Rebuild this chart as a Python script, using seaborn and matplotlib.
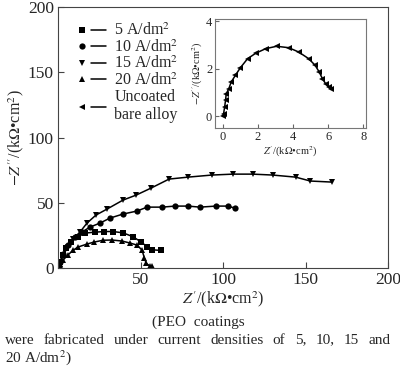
import numpy as np
import pandas as pd
import matplotlib
matplotlib.use("Agg")
import matplotlib.pyplot as plt
import seaborn as sns
from matplotlib.lines import Line2D
from matplotlib.legend_handler import HandlerTuple

# Nyquist data (kOhm cm2)
x5 = [0.5, 1.5, 3, 5, 8, 12, 16.4, 22.4, 27.9, 33.3, 39.4, 45.5, 50.3, 53.9, 57, 62.4]
y5 = [1.5, 5, 10, 15, 20, 24, 26.8, 27.5, 28, 28, 27, 24, 20, 16.5, 14, 13.5]
x10 = [0.5, 1.5, 3, 6, 10.3, 14.5, 19.4, 25.5, 31.5, 39.4, 47.9, 54, 63, 71, 78.8, 86, 95.8, 103, 107]
y10 = [1, 5, 11, 18, 23.8, 27.6, 31.4, 34.5, 38.3, 41.4, 43.7, 46.7, 46.7, 47.5, 47.5, 46.7, 47.5, 47.5, 46]
x15 = [0.5, 1.2, 3, 6.1, 9.1, 13.3, 17.6, 23, 29.7, 39.4, 47.3, 56.4, 67.3, 78.8, 93.3, 106, 118, 130, 144, 153, 166]
y15 = [1, 4.6, 10, 16.1, 22.2, 27.6, 34.5, 40.6, 45.2, 52.1, 55.9, 61.3, 68.2, 69.7, 71.3, 72, 72, 71.3, 69.7, 66.7, 65.9]
x20 = [0.5, 1.5, 3, 6, 9, 12.1, 17.6, 21.8, 27.3, 32.7, 38.8, 43.6, 47.9, 50.9, 52.3, 53.5, 55.5, 57]
y20 = [1, 3, 6, 10, 13.5, 16.1, 18.4, 19.9, 21.3, 21.5, 20.7, 19.2, 17.6, 13.8, 8, 3.5, 1.8, 1.5]
xu = [0.02, 0.04, 0.1, 0.15, 0.19, 0.34, 0.47, 0.71, 0.98, 1.41, 1.88, 2.44, 3.06, 3.75, 4.31, 4.88, 5.25, 5.48, 5.67, 5.85, 6.04, 6.15]
yu = [0.0, 0.11, 0.39, 0.67, 0.95, 1.16, 1.44, 1.72, 2.03, 2.43, 2.66, 2.85, 2.95, 2.89, 2.71, 2.43, 2.15, 1.87, 1.58, 1.37, 1.21, 1.16]

labels = ["5 A/dm$^2$", "10 A/dm$^2$", "15 A/dm$^2$", "20 A/dm$^2$", "Uncoated\nbare alloy"]
markers = ["s", "o", "v", "^", "<"]

sns.set_style("ticks")
plt.rcParams["font.family"] = ["Liberation Serif", "DejaVu Serif"]
plt.rcParams["mathtext.fontset"] = "stix"
plt.rcParams["xtick.direction"] = "in"
plt.rcParams["ytick.direction"] = "in"

fig = plt.figure(figsize=(4, 3.77), dpi=100)
ax = fig.add_axes([0.145, 0.289, 0.825, 0.692])

series = [(x5, y5), (x10, y10), (x15, y15), (x20, y20)]
for (xs, ys), m in zip(series, markers[:4]):
    df = pd.DataFrame({"x": xs, "y": ys})
    sns.lineplot(data=df, x="x", y="y", sort=False, estimator=None, marker=m,
                 markersize=4.5, markeredgewidth=0, color="black", lw=1.1, ax=ax)

ax.set_xlim(0, 200)
ax.set_ylim(0, 200)
ax.set_xticks([0, 50, 100, 150, 200])
ax.set_xticklabels(["", "50", "100", "150", "200"])
ax.set_yticks([0, 50, 100, 150, 200])
ax.tick_params(labelsize=12.5, length=4, color="#444", pad=3)
for s in ax.spines.values():
    s.set_color("#444")
ax.set_xlabel(r"$Z^{\prime}$/(k$\Omega$•cm$^2$)", fontsize=11.5, labelpad=1)
ax.set_ylabel(r"$-Z^{\prime\prime}$/(k$\Omega$•cm$^2$)", fontsize=11.5, labelpad=1)

handles = []
for m in markers:
    handles.append((Line2D([], [], marker=m, color="black", ls="none", markersize=4.5, markeredgewidth=0),
                    Line2D([], [], color="black", lw=1.1)))
ax.legend(handles, labels, handler_map={tuple: HandlerTuple(ndivide=None, pad=0.1)},
          loc="upper left", bbox_to_anchor=(0.03, 0.965), frameon=False, fontsize=11.5,
          handlelength=2.0, handletextpad=0.5, labelspacing=0.0, borderaxespad=0)

# inset with the bare alloy
axin = fig.add_axes([0.5375, 0.6605, 0.3775, 0.289])
dfu = pd.DataFrame({"x": xu, "y": yu})
sns.lineplot(data=dfu, x="x", y="y", sort=False, estimator=None, marker="<",
             markersize=4, markeredgewidth=0, color="black", lw=1.1, ax=axin)
axin.set_xlim(-0.45, 8.15)
axin.set_ylim(-0.5, 4.1)
axin.set_xticks([0, 2, 4, 6, 8])
axin.set_yticks([0, 2, 4])
axin.tick_params(labelsize=9, length=3, color="#666", pad=2)
for s in axin.spines.values():
    s.set_color("#777")
axin.set_xlabel(r"$Z^{\prime}$/(k$\Omega$•cm$^2$)", fontsize=7.5, labelpad=1)
axin.set_ylabel(r"$-Z^{\prime\prime}$/(k$\Omega$•cm$^2$)", fontsize=7.5, labelpad=1)

# caption
fig.text(0.495, 1 - 322 / 377, "(PEO  coatings", fontsize=11, ha="center", va="center")
words = "were fabricated under current densities of 5, 10, 15 and".split()
fig.canvas.draw()
r = fig.canvas.get_renderer()
txts = [fig.text(0, 1 - 340 / 377, w, fontsize=11, ha="left", va="center") for w in words]
widths = [t.get_window_extent(r).width for t in txts]
left, right = 5, 390
gap = (right - left - sum(widths)) / (len(words) - 1)
xpos = left
for t, w in zip(txts, widths):
    t.set_x(xpos / 400)
    xpos += w + gap
fig.text(5 / 400, 1 - 358 / 377, "20 A/dm$^2$)", fontsize=11, ha="left", va="center")

fig.savefig("out.png", dpi=100)
